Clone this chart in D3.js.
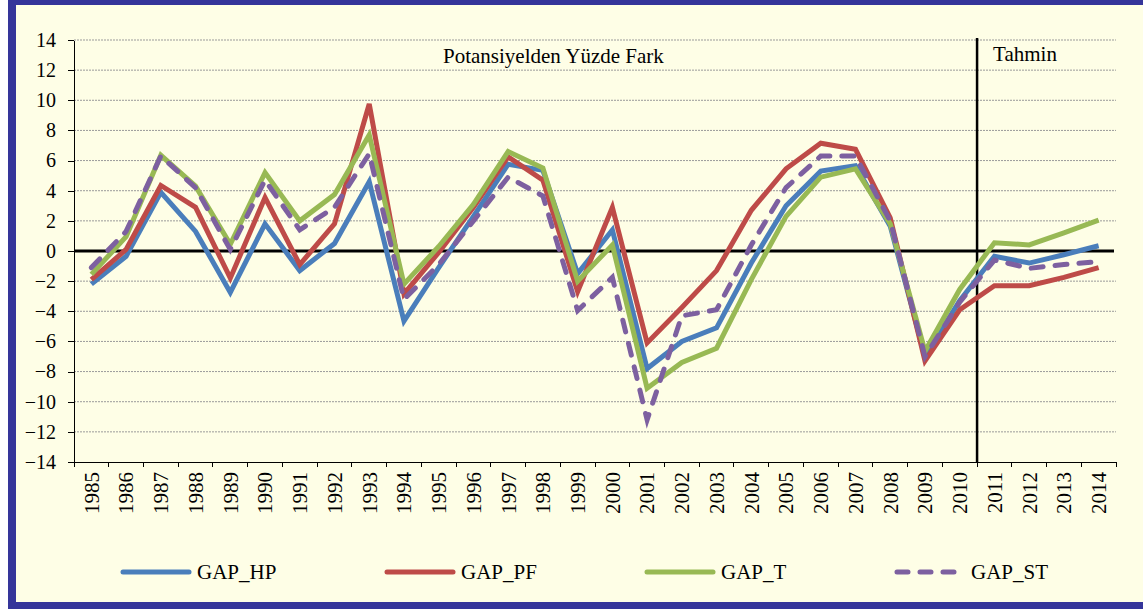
<!DOCTYPE html>
<html>
<head>
<meta charset="UTF-8">
<title>GAP</title>
<script src="https://cdn.jsdelivr.net/npm/d3@7/dist/d3.min.js"></script>
<style>
  body { margin: 0; background: #fff; }
  text { font-family: "Liberation Serif", "Times New Roman", serif; fill: #000; }
  .grid line { stroke: #9a9a9a; stroke-width: 1; stroke-dasharray: 2,1; }
  .axis path, .axis line { stroke: #000; shape-rendering: crispEdges; }
</style>
</head>
<body>
<script>
// kategoriler
var years = ["1985","1986","1987","1988","1989","1990","1991","1992","1993","1994",
             "1995","1996","1997","1998","1999","2000","2001","2002","2003","2004",
             "2005","2006","2007","2008","2009","2010","2011","2012","2013","2014"];

// seriler (potansiyelden yuzde fark)
var gapHP = [-2.2,-0.35,3.9,1.3,-2.75,1.8,-1.3,0.5,4.6,-4.65,
             -1.1,2.3,5.75,5.35,-1.5,1.4,-7.8,-6.0,-5.1,-0.8,
             3.0,5.3,5.65,1.65,-7.0,-3.3,-0.35,-0.8,-0.25,0.35];
var gapPF = [-1.9,0.1,4.35,2.9,-1.8,3.55,-0.9,1.8,9.75,-2.85,
             -0.1,2.9,6.25,4.7,-2.7,2.9,-6.1,-3.75,-1.3,2.7,
             5.45,7.15,6.75,2.2,-7.3,-3.9,-2.3,-2.3,-1.75,-1.1];
var gapT  = [-1.55,0.95,6.35,4.3,0.45,5.2,2.0,3.75,7.7,-2.2,
             0.3,3.1,6.6,5.5,-2.0,0.4,-9.1,-7.4,-6.45,-1.9,
             2.3,4.9,5.45,1.8,-6.65,-2.55,0.55,0.4,1.2,2.05];
var gapST = [-1.1,1.3,6.3,4.2,0.1,4.7,1.4,2.9,6.45,-3.2,
             -0.9,2.0,4.9,3.65,-3.95,-1.75,-11.2,-4.3,-3.9,0.4,
             4.2,6.3,6.3,2.0,-7.0,-3.4,-0.6,-1.15,-0.9,-0.7];

var seriesNames = ["GAP_HP","GAP_PF","GAP_T","GAP_ST"];
var yTicks = [-14,-12,-10,-8,-6,-4,-2,0,2,4,6,8,10,12,14];
var forecastStart = "2011";

var colors = {GAP_HP:"#4a7ebb", GAP_PF:"#be4b48", GAP_T:"#98b954", GAP_ST:"#7d60a0"};

var W = 1143, H = 609;
var plotL = 74, plotR = 1116, plotT = 40, plotB = 462;

var svg = d3.select("body").append("svg")
    .attr("width", W).attr("height", H);

// cerceve
svg.append("rect")
    .attr("x", 12).attr("y", 1)
    .attr("width", 1200).attr("height", 605)
    .attr("fill", "#fefee6")
    .attr("stroke", "#35359a")
    .attr("stroke-width", 8);

var x = d3.scaleBand().domain(years).range([plotL, plotR]).padding(0);
var y = d3.scaleLinear().domain([-14, 14]).range([plotB, plotT]);
function cx(d) { return x(d) + x.bandwidth() / 2; }

// yatay izgara
svg.append("g").attr("class", "grid")
  .selectAll("line")
  .data(yTicks.filter(function(d){ return d !== 0 && d !== -14; }))
  .enter().append("line")
    .attr("x1", plotL).attr("x2", plotR)
    .attr("y1", function(d){ return y(d); })
    .attr("y2", function(d){ return y(d); });

// y ekseni
var yAxis = svg.append("g")
    .attr("class", "axis")
    .attr("font-family", null)
    .attr("transform", "translate(" + plotL + ",0)")
    .call(d3.axisLeft(y).tickValues(yTicks).tickSize(6).tickPadding(12).tickSizeOuter(0));
yAxis.attr("font-family", null);
yAxis.selectAll("text").style("font-size", "20px").style("font-family", "'Liberation Serif', serif");

// x ekseni
var xAxis = svg.append("g")
    .attr("class", "axis")
    .attr("transform", "translate(0," + plotB + ")")
    .call(d3.axisBottom(x).tickSize(0).tickSizeOuter(0));
xAxis.attr("font-family", null);
xAxis.select("path").attr("stroke", "#555");
xAxis.selectAll("text")
    .style("font-size", "21px").style("font-family", "'Liberation Serif', serif")
    .attr("text-anchor", "end")
    .attr("dy", "0.35em")
    .attr("transform", "translate(0,10) rotate(-90)")
    .attr("x", 0).attr("y", 0);

// sinir tikleri
svg.append("g").selectAll("line")
  .data(years.concat(["end"]))
  .enter().append("line")
    .attr("x1", function(d){ return d === "end" ? plotR : x(d); })
    .attr("x2", function(d){ return d === "end" ? plotR : x(d); })
    .attr("y1", plotB).attr("y2", plotB + 5)
    .attr("stroke", "#000").attr("stroke-width", 1)
    .attr("shape-rendering", "crispEdges");

// sifir cizgisi
svg.append("line")
    .attr("x1", plotL).attr("x2", plotR - 2)
    .attr("y1", y(0)).attr("y2", y(0))
    .attr("stroke", "#000").attr("stroke-width", 3);

// tahmin ayraci
svg.append("line")
    .attr("x1", x(forecastStart)).attr("x2", x(forecastStart))
    .attr("y1", plotT - 2).attr("y2", plotB)
    .attr("stroke", "#000").attr("stroke-width", 2.5);

svg.append("text").attr("x", 443).attr("y", 63)
    .style("font-size", "21px").text("Potansiyelden Yüzde Fark");
svg.append("text").attr("x", x(forecastStart) + 16).attr("y", 61)
    .style("font-size", "21px").text("Tahmin");

// cizgiler
var data = [gapHP, gapPF, gapT, gapST];
var line = d3.line()
    .x(function(d, i){ return cx(years[i]); })
    .y(function(d){ return y(d); });

data.forEach(function(vals, k) {
  var name = seriesNames[k];
  svg.append("path")
    .datum(vals)
    .attr("d", line)
    .attr("fill", "none")
    .attr("stroke", colors[name])
    .attr("stroke-width", 5)
    .attr("stroke-linejoin", "miter")
    .attr("stroke-linecap", name === "GAP_ST" ? "round" : "butt")
    .attr("stroke-dasharray", name === "GAP_ST" ? "12,12" : null);
});

// lejant
var legendX = [121, 385, 645, 894];
var legend = svg.append("g").selectAll("g")
  .data(seriesNames).enter().append("g")
  .attr("transform", function(d, i){ return "translate(" + legendX[i] + ",572)"; });

legend.append("line")
    .attr("x1", function(d){ return d === "GAP_ST" ? 3 : 2; })
    .attr("x2", function(d){ return d === "GAP_ST" ? 60 : 68; })
    .attr("y1", 0).attr("y2", 0)
    .attr("stroke", function(d){ return colors[d]; })
    .attr("stroke-width", 5)
    .attr("stroke-linecap", "round")
    .attr("stroke-dasharray", function(d){ return d === "GAP_ST" ? "11,12" : null; });

legend.append("text")
    .attr("x", function(d){ return d === "GAP_ST" ? 77 : 76; })
    .attr("y", 7)
    .style("font-size", "21px")
    .text(function(d){ return d; });
</script>
</body>
</html>
